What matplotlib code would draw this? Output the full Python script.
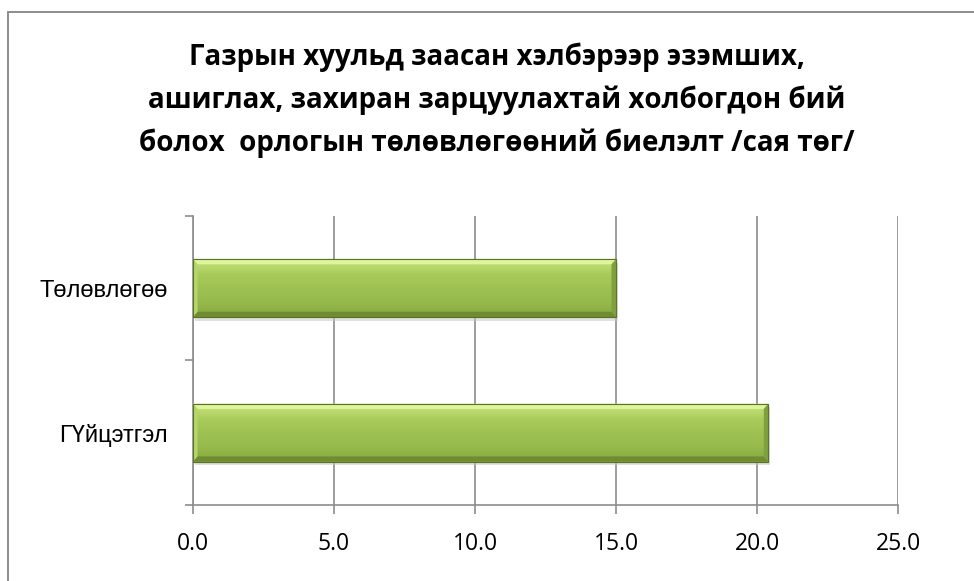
import matplotlib

matplotlib.use("Agg")
import matplotlib.pyplot as plt
import numpy as np
from matplotlib.colors import LinearSegmentedColormap
from matplotlib.patches import Polygon, Rectangle

# data
categories = ["Төлөвлөгөө", "ГҮйцэтгэл"]
values = [15.0, 20.4]
x_ticks = [0, 5, 10, 15, 20, 25]
title = ("Газрын хуульд заасан хэлбэрээр эзэмших,\n"
         "ашиглах, захиран зарцуулахтай холбогдон бий\n"
         "болох  орлогын төлөвлөгөөний биелэлт /сая төг/")

W, H = 974, 581
fig = plt.figure(figsize=(W / 100, H / 100), dpi=100)
fig.patch.set_facecolor("white")

# outer chart frame (right and bottom edges fall outside the image)
fig.patches.append(Rectangle((8 / W, -0.05), 1.1, 1.05 - 12 / H,
                             transform=fig.transFigure, fill=False,
                             edgecolor="#8c8c8c", linewidth=1.4))

ax = fig.add_axes([193 / W, 1 - 505 / H, (898 - 193) / W, (505 - 215.7) / H])

bar_h = 0.40
grad = LinearSegmentedColormap.from_list(
    "bar", ["#c9e67c", "#a9cb5c", "#9ec252", "#96b94b", "#86a83f"])
ypos = np.arange(len(categories))
bars = ax.barh(ypos, values, height=bar_h, color="#9bbb59",
               edgecolor="#5b7327", linewidth=0.8, zorder=3)
bev_x = 0.16  # bevel width in data units
for rect in bars:
    x0, y0 = rect.get_x(), rect.get_y()
    w, h = rect.get_width(), rect.get_height()
    x1, y1 = x0 + w, y0 + h
    bev_y = h * 0.09
    # drop shadow
    ax.add_patch(Rectangle((x0 + 0.06, y0 + 0.025), w, h, facecolor="#c8c8c8",
                           edgecolor="none", alpha=0.55, zorder=2))
    img = ax.imshow(np.linspace(0, 1, 64).reshape(-1, 1), cmap=grad,
                    extent=[x0, x1, y1, y0], aspect="auto",
                    origin="upper", zorder=3.5)
    img.set_clip_path(rect)
    # bevel: light top edge, darker bottom and right edges
    ax.add_patch(Polygon([(x0, y0), (x1, y0), (x1 - bev_x, y0 + bev_y),
                          (x0 + bev_x, y0 + bev_y)], closed=True,
                         facecolor="#def59c", edgecolor="none", zorder=3.6))
    ax.add_patch(Polygon([(x0, y1), (x1, y1), (x1 - bev_x, y1 - bev_y),
                          (x0 + bev_x, y1 - bev_y)], closed=True,
                         facecolor="#6f8c33", edgecolor="none", zorder=3.6))
    ax.add_patch(Polygon([(x1, y0), (x1, y1), (x1 - bev_x, y1 - bev_y),
                          (x1 - bev_x, y0 + bev_y)], closed=True,
                         facecolor="#80a03c", edgecolor="none", zorder=3.6))
    ax.add_patch(Polygon([(x0, y0), (x0, y1), (x0 + bev_x, y1 - bev_y),
                          (x0 + bev_x, y0 + bev_y)], closed=True,
                         facecolor="#b5d66a", edgecolor="none", zorder=3.6))
    ax.add_patch(Rectangle((x0, y0), w, h, facecolor="none",
                           edgecolor="#5b7327", linewidth=0.8, zorder=3.7))

ax.set_xlim(0, 25)
ax.set_ylim(1.5, -0.5)
ax.set_xticks(x_ticks)
ax.set_xticklabels([f"{t:.1f}" for t in x_ticks], fontsize=16.5,
                   family="Open Sans")
ax.set_yticks(ypos)
ax.set_yticklabels(categories, fontsize=17, family="Liberation Sans")
ax.set_yticks([-0.5, 0.5, 1.5], minor=True)
ax.tick_params(axis="y", which="major", length=0, pad=18)
ax.tick_params(axis="y", which="minor", length=6, width=1.2, color="#8c8c8c")
ax.tick_params(axis="x", length=6.5, width=1.2, color="#8c8c8c", pad=13)

ax.grid(axis="x", color="#8c8c8c", linewidth=1.2, zorder=0)
ax.set_axisbelow(True)
for side in ["top", "right"]:
    ax.spines[side].set_visible(False)
for side in ["left", "bottom"]:
    ax.spines[side].set_color("#8c8c8c")
    ax.spines[side].set_linewidth(1.2)

fig.text(497 / W, 1 - 100 / H, title, ha="center", va="center",
         fontsize=20, fontweight="bold", family="Open Sans",
         linespacing=1.6)

fig.savefig("out.png", dpi=100)
